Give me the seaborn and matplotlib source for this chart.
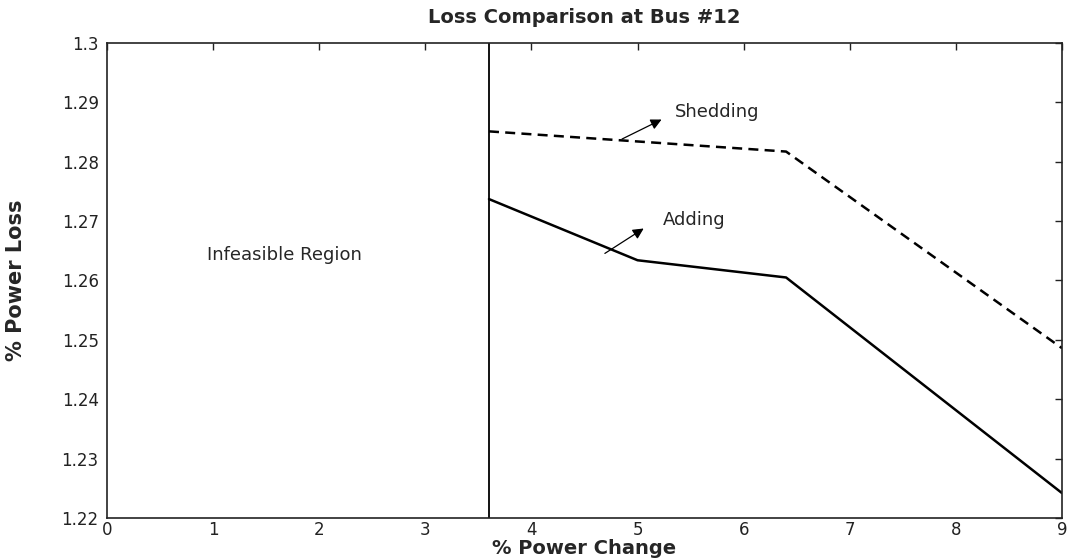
import matplotlib
matplotlib.use('Agg')
import matplotlib.pyplot as plt
import seaborn as sns
import pandas as pd

# data
power_change = [3.6, 5.0, 6.4, 9.0]
loss_shedding = [1.2851, 1.2834, 1.2817, 1.2486]
loss_adding = [1.2737, 1.2634, 1.2605, 1.2242]
feasible_limit = 3.6
x_ticks = [0, 1, 2, 3, 4, 5, 6, 7, 8, 9]
y_ticks = [1.22, 1.23, 1.24, 1.25, 1.26, 1.27, 1.28, 1.29, 1.3]
y_tick_labels = ['1.22', '1.23', '1.24', '1.25', '1.26', '1.27', '1.28', '1.29', '1.3']

df = pd.DataFrame({'change': power_change,
                   'Shedding': loss_shedding,
                   'Adding': loss_adding})

sns.set_style('white')
plt.rcParams['font.family'] = ['DejaVu Sans']

fig = plt.figure(figsize=(10.7, 5.59), dpi=100)
ax = fig.add_axes([0.1, 0.0733, 0.8925, 0.85])

sns.lineplot(data=df, x='change', y='Shedding', ax=ax, color='black',
             linewidth=1.8, linestyle=(0, (4, 2.5)))
sns.lineplot(data=df, x='change', y='Adding', ax=ax, color='black',
             linewidth=1.8)

# boundary of the infeasible region
ax.axvline(feasible_limit, color='black', linewidth=1.3)

ax.set_xlim(0, 9)
ax.set_ylim(1.22, 1.3)
ax.set_xticks(x_ticks)
ax.set_xticklabels([str(t) for t in x_ticks])
ax.set_yticks(y_ticks)
ax.set_yticklabels(y_tick_labels)

ax.tick_params(direction='in', length=5, width=1, top=True, right=True,
               labelsize=12, colors='#222222')
ax.tick_params(axis='y', pad=6)
ax.tick_params(axis='x', pad=2)
for s in ax.spines.values():
    s.set_color('#222222')
    s.set_linewidth(1.2)

ax.set_title('Loss Comparison at Bus #12', fontsize=14, fontweight='bold', pad=14)
ax.set_xlabel('% Power Change', fontsize=14, fontweight='bold', labelpad=0)
ax.set_ylabel('% Power Loss', fontsize=15, fontweight='bold')
ax.yaxis.set_label_coords(-0.085, 0.5)

ax.text(1.67, 1.2643, 'Infeasible Region', fontsize=13, ha='center', va='center')

arrow = dict(arrowstyle='-|>', color='black', lw=0.9, mutation_scale=16)
ax.annotate('', xy=(5.25, 1.2873), xytext=(4.83, 1.2836), arrowprops=arrow)
ax.text(5.35, 1.2883, 'Shedding', fontsize=13, ha='left', va='center')
ax.annotate('', xy=(5.08, 1.2690), xytext=(4.67, 1.2643), arrowprops=arrow)
ax.text(5.24, 1.2702, 'Adding', fontsize=13, ha='left', va='center')

fig.savefig('out.png', dpi=100)
